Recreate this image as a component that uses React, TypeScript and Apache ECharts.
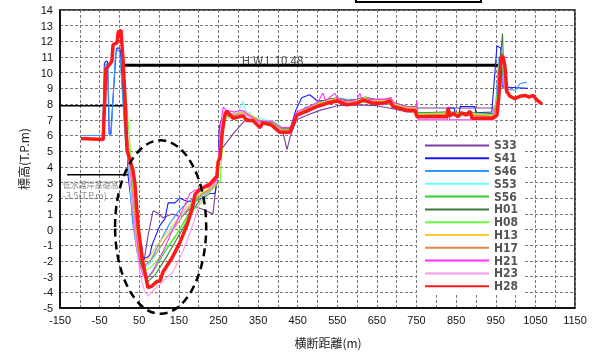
import React, { useEffect, useRef } from "react";
import * as echarts from "echarts";

const seriesNames = ["S33", "S41", "S46", "S53", "S56", "H01", "H08", "H13", "H17", "H21", "H23", "H28"];
const seriesColors = ["#7b3fa0", "#1a1aff", "#3399ff", "#66ffff", "#33cc33", "#3a7a3a", "#66ff33", "#ffcc33", "#e8864a", "#ff33ff", "#ff99ee", "#ff1a1a"];

const S33 = [[5,11.8],[11,9.0],[18,6.0],[25,4.2],[33,2.0],[43,-0.5],[53,-1.8],[62,-2.05],[72,-0.4],[85,1.2],[97,1.05],[110,0.75],[133,1.0],[155,0.8],[186,1.5],[210,1.3],[236,1.0],[254,5.0],[290,6.2],[322,7.1],[345,6.9],[365,6.7],[390,6.7],[412,6.3],[423,5.1],[432,6.0],[447,7.0],[475,7.3],[506,7.6],[550,7.9],[600,7.95],[650,7.9],[690,7.7],[726,7.5],[749,7.5],[752,7.75],[830,7.75],[890,7.75],[955,7.75],[962,11.2],[968,11.2]];
const S41 = [[-75,6.0],[-42,6.0],[-38,10.6],[-33,10.75],[-30,10.7],[-26,6.1],[-22,6.1],[-8,11.5],[-4,11.6],[2,11.5],[8,9.0],[14,6.5],[19,5.7],[22,3.4],[35,0.7],[47,-1.2],[57,-1.1],[60,-1.8],[69,-1.8],[77,-1.6],[82,-1.0],[102,0.25],[115,0.7],[123,1.7],[140,1.7],[153,2.0],[170,1.8],[186,1.8],[208,2.0],[229,2.3],[241,2.3],[246,2.95],[250,4.6],[252,6.5],[256,6.9],[262,7.1],[270,7.4],[290,7.3],[312,7.4],[330,7.2],[355,6.9],[380,6.9],[405,6.4],[430,6.3],[445,7.6],[460,8.4],[480,8.6],[500,8.2],[550,8.3],[600,8.2],[650,8.2],[690,8.0],[726,7.8],[750,7.8],[751,7.4],[825,7.4],[828,7.75],[845,7.75],[848,7.4],[858,7.4],[860,7.85],[897,7.85],[900,7.45],[940,7.5],[953,11.7],[962,11.6],[966,9.1],[1031,9.0]];
const S46 = [[-97,6.0],[-43,6.0],[-37,10.4],[-32,10.6],[-29,10.3],[-25,6.0],[-21,6.0],[-10,11.2],[-5,11.5],[1,11.3],[8,8.5],[14,6.0],[20,4.8],[26,3.0],[33,0.5],[45,-1.5],[55,-2.2],[65,-2.3],[80,-1.9],[100,-0.9],[125,0.3],[150,1.2],[175,1.8],[200,2.2],[225,2.5],[245,3.0],[252,5.0],[258,6.6],[268,7.3],[290,7.3],[315,7.5],[335,7.1],[360,6.9],[385,6.8],[410,6.4],[432,6.4],[445,7.3],[470,7.8],[500,8.0],[550,8.35],[600,8.25],[650,8.25],[690,8.05],[726,7.8],[749,7.8],[752,7.4],[830,7.5],[890,7.35],[943,7.3],[950,8.0],[958,11.0],[964,11.1],[970,9.0],[990,8.9],[1000,8.9],[1011,9.3],[1028,9.4]];
const S53 = [[5,12.0],[10,9.5],[16,6.5],[22,4.5],[30,2.0],[42,-0.5],[55,-2.0],[66,-2.4],[80,-2.1],[100,-1.3],[130,0.0],[160,1.0],[185,1.7],[210,2.2],[235,2.7],[248,3.5],[255,5.5],[262,7.1],[280,7.4],[300,7.5],[312,8.2],[318,7.6],[340,7.2],[365,7.0],[390,6.9],[412,6.5],[436,6.5],[447,7.4],[475,7.8],[500,8.1],[550,8.3],[600,8.3],[650,8.2],[690,8.0],[726,7.75],[749,7.75],[752,7.35],[830,7.4],[890,7.35],[943,7.25],[952,8.2],[960,11.2],[966,11.0],[975,8.8]];
const S56 = [[5,12.2],[12,9.0],[20,6.0],[28,4.2],[36,2.0],[45,-0.5],[55,-2.3],[65,-2.9],[72,-3.1],[85,-2.7],[110,-1.6],[140,-0.5],[165,0.6],[190,1.7],[215,2.4],[240,2.9],[250,3.8],[256,5.5],[264,7.2],[285,7.35],[310,7.45],[335,7.1],[360,6.8],[385,6.7],[410,6.3],[432,6.3],[446,7.2],[475,7.7],[500,8.0],[550,8.2],[600,8.15],[650,8.15],[690,7.95],[726,7.7],[749,7.7],[752,7.3],[830,7.35],[890,7.3],[943,7.2],[952,8.0],[960,10.8],[966,10.5],[975,8.8]];
const H01 = [[5,12.0],[11,9.2],[18,6.2],[25,4.3],[33,2.2],[42,-0.2],[52,-2.0],[62,-2.7],[72,-3.3],[90,-2.9],[115,-1.9],[145,-0.6],[170,0.5],[195,1.6],[220,2.3],[244,2.8],[250,4.0],[257,6.0],[265,7.2],[290,7.35],[315,7.45],[340,7.15],[360,6.85],[385,6.85],[410,6.45],[432,6.45],[447,7.35],[475,7.75],[500,8.1],[525,8.3],[550,8.4],[575,8.25],[600,8.3],[620,8.45],[645,8.3],[670,8.3],[685,8.4],[692,8.1],[726,7.85],[749,7.85],[752,7.45],[830,7.5],[890,7.45],[943,7.4],[955,8.5],[962,11.0],[967,12.5],[970,10.0],[975,8.8]];
const H08 = [[6,12.2],[12,10.0],[20,7.5],[28,5.0],[33,3.8],[40,2.0],[48,-0.5],[58,-2.0],[68,-2.6],[80,-2.4],[100,-1.8],[130,-0.8],[160,0.3],[185,1.2],[210,1.8],[235,2.6],[254,3.05],[259,5.0],[264,7.0],[290,7.3],[315,7.4],[340,7.1],[360,6.8],[385,6.8],[410,6.4],[432,6.4],[447,7.3],[475,7.7],[500,8.0],[525,8.2],[550,8.35],[575,8.15],[600,8.2],[620,8.4],[645,8.25],[670,8.2],[685,8.35],[692,8.05],[726,7.8],[749,7.8],[752,7.4],[830,7.45],[890,7.4],[943,7.3],[955,8.6],[962,10.9],[968,10.6],[975,8.8]];
const H13 = [[5,12.1],[11,9.5],[18,6.5],[25,4.6],[33,2.5],[42,0.0],[52,-1.7],[62,-2.0],[75,-1.8],[95,-1.0],[120,-0.2],[150,0.8],[175,1.6],[200,2.2],[225,2.6],[244,3.0],[250,4.4],[257,6.5],[265,7.3],[290,7.4],[315,7.5],[340,7.2],[360,6.9],[385,6.9],[410,6.5],[432,6.5],[447,7.4],[475,7.7],[500,8.05],[525,8.25],[550,8.35],[575,8.15],[600,8.25],[620,8.4],[645,8.2],[670,8.25],[685,8.35],[692,8.0],[726,7.75],[749,7.75],[752,7.35],[830,7.4],[890,7.35],[943,7.25],[955,8.4],[962,10.8],[968,10.7],[975,8.7]];
const H17 = [[5,12.0],[11,9.3],[18,6.3],[25,4.5],[33,2.3],[42,-0.2],[52,-1.9],[62,-2.3],[75,-2.1],[95,-1.4],[120,-0.5],[150,0.5],[175,1.4],[200,2.1],[225,2.5],[244,2.9],[250,4.3],[257,6.4],[265,7.2],[290,7.3],[315,7.4],[340,7.1],[360,6.8],[385,6.75],[410,6.35],[432,6.35],[447,7.3],[475,7.65],[500,7.95],[525,8.15],[550,8.3],[575,8.1],[600,8.2],[620,8.35],[645,8.15],[670,8.15],[685,8.3],[692,7.95],[726,7.7],[749,7.7],[752,7.3],[830,7.35],[890,7.3],[943,7.2],[955,8.3],[962,10.9],[968,10.8],[975,8.7]];
const H21 = [[4,12.3],[10,9.8],[16,7.0],[23,4.6],[31,2.3],[40,-0.3],[50,-2.2],[60,-2.9],[70,-3.1],[85,-2.6],[110,-1.4],[135,0.0],[160,1.3],[178,2.3],[190,2.5],[205,2.6],[225,2.7],[245,3.1],[250,4.5],[256,6.8],[262,7.8],[270,7.6],[290,7.5],[305,7.6],[315,7.55],[340,7.0],[360,6.9],[385,6.9],[410,6.5],[432,6.5],[447,7.5],[475,7.8],[500,8.1],[514,8.7],[520,8.2],[544,8.7],[550,8.35],[575,8.2],[600,8.3],[607,8.7],[612,8.3],[645,8.3],[670,8.3],[685,8.4],[692,8.1],[726,7.85],[748,7.85],[751,8.2],[753,7.0],[828,7.0],[830,7.85],[833,7.0],[890,7.0],[943,7.0],[955,8.2],[962,11.0],[968,10.9],[975,8.8]];
const H23 = [[4,12.2],[10,9.5],[17,6.5],[24,4.3],[32,2.0],[42,-0.8],[52,-2.8],[62,-3.8],[72,-4.25],[85,-3.9],[110,-3.3],[135,-2.7],[160,-1.4],[178,-0.2],[195,1.05],[203,1.8],[225,2.4],[245,3.0],[250,4.3],[256,6.5],[264,7.5],[290,7.35],[315,7.4],[340,7.0],[360,6.7],[385,6.7],[410,6.3],[432,6.3],[447,7.2],[475,7.6],[500,7.9],[525,8.1],[550,8.25],[575,8.05],[600,8.15],[620,8.3],[645,8.1],[670,8.1],[685,8.25],[692,7.9],[726,7.65],[749,7.65],[753,6.95],[830,6.95],[890,6.95],[943,6.95],[955,8.0],[962,10.7],[968,10.6],[975,8.7]];
const H28 = [[-97,5.8],[-41,5.75],[-34,10.25],[-24,10.55],[-19,10.75],[-16,11.8],[-6,11.9],[-3,12.6],[4,12.7],[9,10.9],[14,8.4],[19,5.1],[27,4.4],[34,3.8],[39,2.95],[47,0.25],[57,-1.8],[64,-2.7],[72,-3.7],[82,-3.6],[95,-3.3],[102,-3.3],[110,-2.7],[133,-1.8],[153,-0.8],[170,0.25],[183,1.3],[191,2.25],[203,2.55],[228,2.9],[246,3.4],[249,4.3],[254,4.6],[259,6.1],[266,7.3],[271,7.55],[287,7.1],[312,7.25],[322,6.95],[337,6.95],[355,6.5],[362,6.8],[380,6.7],[387,6.6],[405,6.2],[430,6.2],[438,6.7],[448,7.3],[473,7.55],[499,7.85],[524,8.05],[549,8.2],[574,7.95],[600,8.05],[615,8.25],[640,8.05],[665,8.05],[683,8.2],[690,7.85],[726,7.6],[746,7.6],[751,7.2],[827,7.2],[830,7.75],[834,7.25],[843,7.4],[855,7.2],[864,7.45],[876,7.3],[885,7.55],[890,7.1],[943,7.1],[953,7.3],[958,8.55],[963,11.0],[968,11.05],[973,10.45],[978,8.8],[986,8.5],[998,8.35],[1011,8.5],[1024,8.55],[1034,8.45],[1044,8.55],[1054,8.25],[1067,8.0]];

const seriesData = [S33, S41, S46, S53, S56, H01, H08, H13, H17, H21, H23, H28];

const hwlLine = [[10, 10.48], [966, 10.48]];
const highBankLine = [[-150, 7.9], [12, 7.9]];
const lowBankLine = [[-132, 3.5], [32, 3.5]];
const focusEllipse = [[104, 0.16, 115, 5.53]];

const xTicks = { min: -150, max: 1150, step: 50 };
const yTicks = { min: -5, max: 14, step: 1 };

const annotations = [
  { pos: [309, 10.82], text: "H.W.L 10.48", size: 11.5, color: "#222" },
  { pos: [-157, 7.2], text: "高水護岸基礎高", size: 8, color: "#777" },
  { pos: [-157, 6.45], text: "7.9(T.P.m)", size: 9, color: "#777" },
  { pos: [-143, 2.9], text: "低水護岸基礎高", size: 8, color: "#777" },
  { pos: [-143, 2.15], text: "-3.5(T.P.m)", size: 9, color: "#777" },
];

export default function App() {
  const ref = useRef<HTMLDivElement>(null);
  useEffect(() => {
    if (!ref.current) return;
    const chart = echarts.init(ref.current, undefined, { renderer: "svg" });
    const font = "'Liberation Sans', Arial, sans-serif";
    const dataSeries = seriesNames.map((name, i) => ({
      name,
      type: "line",
      data: seriesData[i],
      symbol: "none",
      lineStyle: { color: seriesColors[i], width: name === "H28" ? 3.5 : 1.1 },
      itemStyle: { color: seriesColors[i] },
      z: name === "H28" ? 5 : 3,
    }));
    const refLine = (name: string, data: number[][], width: number) => ({
      name,
      type: "line",
      data,
      symbol: "none",
      silent: true,
      lineStyle: { color: "#000", width },
      z: 2,
    });
    chart.setOption({
      animation: false,
      grid: { left: 60, top: 10, right: 29, bottom: 39, show: true, borderColor: "#000", borderWidth: 1.5, backgroundColor: "#fff" },
      legend: {
        data: seriesNames,
        orient: "vertical",
        left: 417,
        top: 137,
        icon: "rect",
        itemWidth: 64,
        itemHeight: 2,
        itemGap: 0,
        itemTextGap: 4,
        padding: [2, 5, 2, 8],
        backgroundColor: "#fff",
        textStyle: { fontSize: 12, lineHeight: 12.8, color: "#555", fontWeight: "bold", fontFamily: "'Liberation Sans Narrow', 'DejaVu Sans Condensed', sans-serif" },
      },
      xAxis: {
        type: "value",
        min: xTicks.min,
        max: xTicks.max,
        interval: xTicks.step,
        name: "横断距離(m)",
        nameLocation: "middle",
        nameGap: 28,
        nameTextStyle: { fontSize: 12, color: "#222", fontFamily: "'Noto Sans CJK JP', sans-serif", padding: [0, 0, 0, 21] },
        axisLine: { onZero: false, lineStyle: { color: "#000", width: 1.5 } },
        axisTick: { show: false },
        axisLabel: {
          fontSize: 11,
          color: "#111",
          margin: 7,
          fontFamily: font,
          formatter: (v: number) => ((v - xTicks.min) % 100 === 0 ? String(v) : ""),
        },
        splitLine: { show: true, lineStyle: { color: "#777", type: [3, 2], width: 1 } },
      },
      yAxis: {
        type: "value",
        min: yTicks.min,
        max: yTicks.max,
        interval: yTicks.step,
        name: "標高(T.P.m)",
        nameLocation: "middle",
        nameGap: 22,
        nameTextStyle: { fontSize: 12, color: "#222", fontFamily: "'Noto Sans CJK JP', sans-serif" },
        axisLine: { onZero: false, lineStyle: { color: "#000", width: 1.5 } },
        axisTick: { show: false },
        axisLabel: { fontSize: 11, color: "#111", margin: 7, fontFamily: font },
        splitLine: { show: true, lineStyle: { color: "#777", type: [3, 2], width: 1 } },
      },
      graphic: [
        { type: "rect", left: 355, top: -12, shape: { width: 125, height: 13 }, style: { fill: "#fff", stroke: "#000", lineWidth: 2 } },
      ],
      series: [
        refLine("hwl", hwlLine, 3),
        refLine("high", highBankLine, 1.5),
        refLine("low", lowBankLine, 1.5),
        ...dataSeries,
        {
          name: "ellipse",
          type: "custom",
          silent: true,
          z: 6,
          data: focusEllipse,
          renderItem: (params: any, api: any) => {
            const c = api.coord([api.value(0), api.value(1)]);
            const s = api.size([api.value(2), api.value(3)]);
            return {
              type: "ellipse",
              shape: { cx: c[0], cy: c[1], rx: s[0], ry: s[1] },
              style: { fill: "none", stroke: "#000", lineWidth: 2.5, lineDash: [8, 5] },
            };
          },
        },
        {
          name: "annot",
          type: "scatter",
          symbolSize: 0,
          silent: true,
          z: 7,
          data: annotations.map((a) => ({
            value: a.pos,
            label: {
              show: true,
              position: "right",
              distance: 0,
              formatter: a.text,
              fontSize: a.size,
              lineHeight: a.size + 1,
              color: a.color,
              fontFamily: "'Noto Sans CJK JP', 'Liberation Sans', sans-serif",
            },
          })),
        },
      ],
    });
    return () => chart.dispose();
  }, []);
  return <div ref={ref} style={{ position: "fixed", left: 0, top: 0, width: 604, height: 353 }} />;
}
